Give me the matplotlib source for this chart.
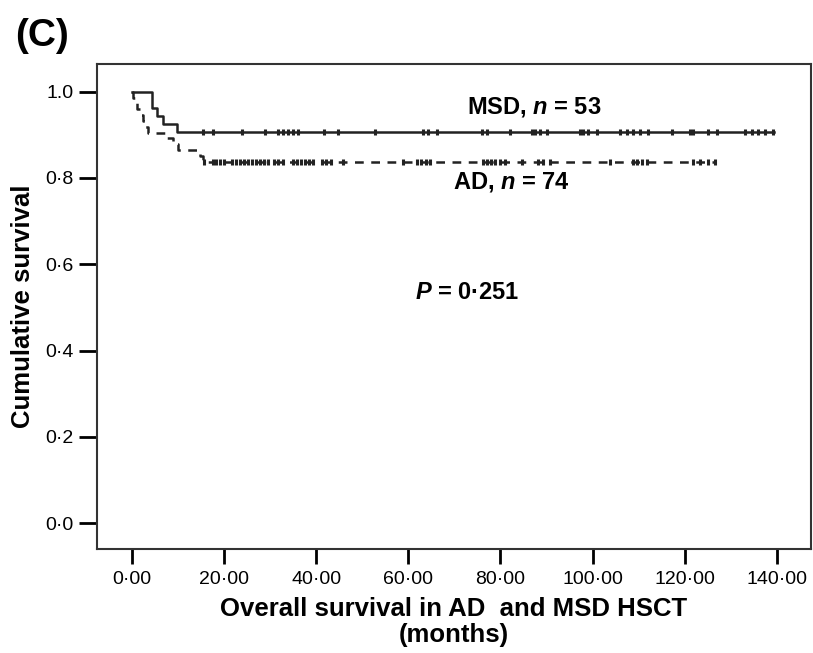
import numpy as np
import matplotlib
matplotlib.use("Agg")
import matplotlib.pyplot as plt

plt.rcParams['font.family'] = ['Liberation Sans', 'DejaVu Sans']
plt.rcParams['mathtext.fontset'] = 'custom'
plt.rcParams['mathtext.it'] = 'Liberation Sans:italic:bold'
plt.rcParams['mathtext.rm'] = 'Liberation Sans:bold'

# Kaplan-Meier steps (months, cumulative survival)
msd_times = [0, 4.3, 5.4, 6.7, 9.8]
msd_surv = [1.0, 0.962, 0.943, 0.925, 0.906]
msd_end = 139.5
msd_censored = [15.4, 17.6, 23.9, 28.9, 31.7, 32.8, 33.9, 34.9, 36.0, 41.7,
                44.7, 52.7, 63.2, 64.2, 66.2, 76.0, 77.1, 82.0, 86.8, 87.5,
                88.6, 90.1, 97.2, 97.9, 99.0, 100.9, 105.9, 107.4, 108.7,
                110.3, 112.0, 117.2, 121.1, 121.8, 125.0, 127.0, 133.1,
                134.6, 135.9, 137.4, 139.1]

ad_times = [0, 0.2, 0.6, 1.0, 1.7, 2.4, 2.8, 3.5, 7.5, 9.0, 10.0, 14.8, 15.4]
ad_surv = [1.0, 0.986, 0.973, 0.959, 0.946, 0.932, 0.919, 0.905, 0.892,
           0.878, 0.865, 0.851, 0.838]
ad_end = 126.5
ad_censored = [15.6, 17.6, 18.2, 19.1, 20.0, 21.7, 22.6, 23.4, 24.3, 25.2,
               26.0, 26.9, 27.8, 28.7, 29.5, 30.8, 31.7, 32.8, 34.9, 35.8,
               36.7, 37.6, 38.4, 39.3, 41.2, 42.1, 43.2, 45.8, 58.8, 61.9,
               62.7, 63.8, 64.7, 76.2, 77.1, 77.9, 78.8, 79.9, 81.0, 84.7,
               88.1, 89.2, 90.7, 103.8, 108.7, 109.6, 110.7, 111.8, 121.8,
               123.3, 125.0, 126.5]

xticks = [0, 20, 40, 60, 80, 100, 120, 140]
xticklabels = ['0·00', '20·00', '40·00', '60·00', '80·00', '100·00', '120·00', '140·00']
yticks = [0.0, 0.2, 0.4, 0.6, 0.8, 1.0]
yticklabels = ['0·0', '0·2', '0·4', '0·6', '0·8', '1.0']


def level_at(times, surv, t):
    idx = np.searchsorted(times, t, side='right') - 1
    return np.array(surv)[idx]


fig = plt.figure(figsize=(8.13, 6.53), dpi=100)
ax = fig.add_axes([0.1193, 0.159, 0.878, 0.743])

# MSD: solid
ax.step(msd_times + [msd_end], msd_surv + [msd_surv[-1]], where='post',
        color='#222222', lw=1.8)
ax.plot(msd_censored, level_at(msd_times, msd_surv, msd_censored), ls='none',
        marker='|', ms=4.5, mew=2.2, color='#222222')

# AD: dashed
ax.step(ad_times + [ad_end], ad_surv + [ad_surv[-1]], where='post',
        color='#222222', lw=1.8, ls=(0, (3.5, 3)))
ax.plot(ad_censored, level_at(ad_times, ad_surv, ad_censored), ls='none',
        marker='|', ms=4.5, mew=2.2, color='#222222')

ax.set_xlim(-7.6, 147.4)
ax.set_ylim(-0.060, 1.064)
ax.set_xticks(xticks)
ax.set_xticklabels(xticklabels, fontsize=14)
ax.set_yticks(yticks)
ax.set_yticklabels(yticklabels, fontsize=14)
ax.tick_params(axis='x', direction='out', length=11, width=2, pad=5)
ax.tick_params(axis='y', direction='out', length=13, width=2, pad=4)
for s in ax.spines.values():
    s.set_linewidth(1.5)
    s.set_color('#333333')

ax.set_xlabel('Overall survival in AD  and MSD HSCT\n(months)', fontsize=18.5,
              fontweight='bold', linespacing=1.12, labelpad=6)
ax.set_ylabel('Cumulative survival', fontsize=18.5, fontweight='bold', labelpad=7)

ax.text(72.7, 0.950, 'MSD, $n$ = 53', fontsize=17, fontweight='bold')
ax.text(69.7, 0.775, 'AD, $n$ = 74', fontsize=17, fontweight='bold')
ax.text(61.4, 0.520, '$P$ = 0·251', fontsize=17, fontweight='bold')

fig.text(15 / 813, 1 - 46 / 653, '(C)', fontsize=28, fontweight='bold',
         ha='left', va='baseline')

fig.savefig('out.png', dpi=100)
